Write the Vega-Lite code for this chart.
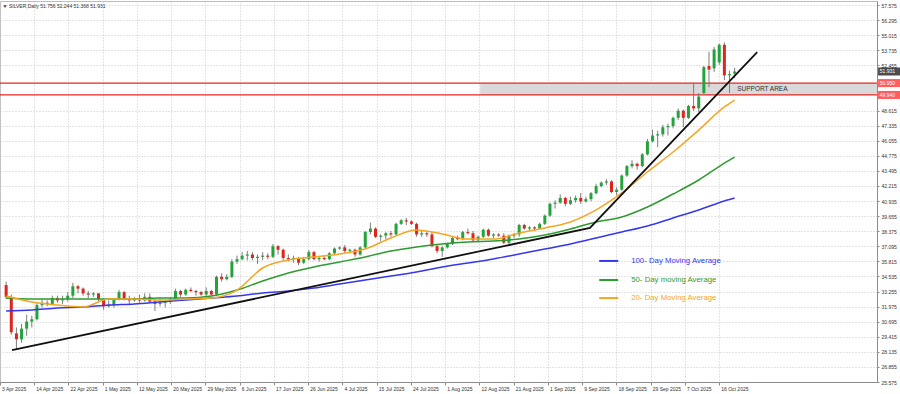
{
"$schema":"https://vega.github.io/schema/vega-lite/v6.json",
"width":877,"height":381,
"autosize":{"type":"none"},
"padding":{"left":0,"top":1,"right":23,"bottom":12},
"background":"white",
"config":{"view":{"stroke":"#bdbdbd"},"font":"Liberation Sans",
 "axis":{"labelFont":"Liberation Sans","labelFontSize":5,"labelColor":"#333","domainColor":"#8c8c8c","tickColor":"#8c8c8c","grid":true,"gridDash":[1,2],"gridColor":"#c8c8c8"}},
"datasets":{
"candles":[
{"i":0,"o":33.8,"h":34.1,"l":32.6,"c":32.8},
{"i":1,"o":32.8,"h":33.0,"l":29.6,"c":29.8},
{"i":2,"o":29.7,"h":30.2,"l":28.3,"c":29.2},
{"i":3,"o":29.2,"h":30.5,"l":28.9,"c":30.1},
{"i":4,"o":30.1,"h":31.3,"l":29.5,"c":30.7},
{"i":5,"o":30.7,"h":31.2,"l":30.2,"c":30.9},
{"i":6,"o":30.9,"h":32.3,"l":30.8,"c":32.1},
{"i":7,"o":32.1,"h":32.6,"l":31.9,"c":32.3},
{"i":8,"o":32.3,"h":32.5,"l":32.0,"c":32.2},
{"i":9,"o":32.2,"h":32.9,"l":32.1,"c":32.7},
{"i":10,"o":32.7,"h":32.9,"l":32.3,"c":32.5},
{"i":11,"o":32.5,"h":32.9,"l":32.2,"c":32.6},
{"i":12,"o":32.6,"h":33.2,"l":32.4,"c":32.9},
{"i":13,"o":32.9,"h":34.0,"l":32.7,"c":33.7},
{"i":14,"o":33.7,"h":33.8,"l":33.1,"c":33.5},
{"i":15,"o":33.5,"h":33.6,"l":32.9,"c":33.1},
{"i":16,"o":33.1,"h":33.3,"l":32.7,"c":33.0},
{"i":17,"o":33.0,"h":33.2,"l":32.8,"c":33.1},
{"i":18,"o":33.1,"h":33.1,"l":32.4,"c":32.6},
{"i":19,"o":32.6,"h":32.7,"l":31.7,"c":32.0},
{"i":20,"o":32.0,"h":32.5,"l":31.9,"c":32.1},
{"i":21,"o":32.1,"h":32.7,"l":31.9,"c":32.6},
{"i":22,"o":32.6,"h":33.4,"l":32.5,"c":33.2},
{"i":23,"o":33.2,"h":33.3,"l":32.5,"c":32.6},
{"i":24,"o":32.6,"h":32.9,"l":32.1,"c":32.5},
{"i":25,"o":32.5,"h":32.8,"l":32.4,"c":32.7},
{"i":26,"o":32.7,"h":33.0,"l":32.3,"c":32.5},
{"i":27,"o":32.5,"h":33.1,"l":32.4,"c":32.8},
{"i":28,"o":32.8,"h":33.1,"l":32.3,"c":32.4},
{"i":29,"o":32.4,"h":32.6,"l":31.6,"c":32.2},
{"i":30,"o":32.2,"h":32.7,"l":32.0,"c":32.3},
{"i":31,"o":32.3,"h":32.5,"l":31.9,"c":32.4},
{"i":32,"o":32.4,"h":32.8,"l":32.2,"c":32.6},
{"i":33,"o":32.6,"h":33.5,"l":32.5,"c":33.3},
{"i":34,"o":33.3,"h":33.4,"l":32.8,"c":33.0},
{"i":35,"o":33.0,"h":33.5,"l":32.9,"c":33.4},
{"i":36,"o":33.4,"h":33.6,"l":33.2,"c":33.3},
{"i":37,"o":33.3,"h":33.4,"l":32.9,"c":33.2},
{"i":38,"o":33.2,"h":33.3,"l":32.9,"c":33.0},
{"i":39,"o":33.0,"h":33.6,"l":32.9,"c":33.3},
{"i":40,"o":33.3,"h":33.4,"l":32.9,"c":33.0},
{"i":41,"o":33.0,"h":34.6,"l":32.9,"c":34.5},
{"i":42,"o":34.5,"h":34.8,"l":34.1,"c":34.3},
{"i":43,"o":34.3,"h":34.7,"l":34.2,"c":34.5},
{"i":44,"o":34.5,"h":36.0,"l":34.4,"c":35.8},
{"i":45,"o":35.8,"h":36.3,"l":35.6,"c":36.0},
{"i":46,"o":36.0,"h":36.6,"l":35.9,"c":36.3},
{"i":47,"o":36.3,"h":36.7,"l":35.9,"c":36.4},
{"i":48,"o":36.4,"h":36.6,"l":35.9,"c":36.1},
{"i":49,"o":36.1,"h":36.4,"l":35.6,"c":36.2},
{"i":50,"o":36.2,"h":36.6,"l":35.9,"c":36.3},
{"i":51,"o":36.3,"h":36.5,"l":36.0,"c":36.2},
{"i":52,"o":36.2,"h":37.3,"l":36.1,"c":37.1},
{"i":53,"o":37.1,"h":37.2,"l":36.4,"c":36.8},
{"i":54,"o":36.8,"h":36.9,"l":35.9,"c":36.1},
{"i":55,"o":36.1,"h":36.4,"l":35.8,"c":36.0},
{"i":56,"o":36.0,"h":36.3,"l":35.7,"c":36.1},
{"i":57,"o":36.1,"h":36.2,"l":35.5,"c":35.7},
{"i":58,"o":35.7,"h":36.2,"l":35.6,"c":36.0},
{"i":59,"o":36.0,"h":36.8,"l":35.9,"c":36.6},
{"i":60,"o":36.6,"h":36.7,"l":35.9,"c":36.0},
{"i":61,"o":36.0,"h":36.2,"l":35.8,"c":36.1},
{"i":62,"o":36.1,"h":36.3,"l":35.9,"c":36.0},
{"i":63,"o":36.0,"h":36.6,"l":35.9,"c":36.5},
{"i":64,"o":36.5,"h":37.0,"l":36.4,"c":36.9},
{"i":65,"o":36.9,"h":37.1,"l":36.8,"c":37.0},
{"i":66,"o":37.0,"h":37.2,"l":36.5,"c":36.7},
{"i":67,"o":36.7,"h":36.9,"l":36.5,"c":36.8},
{"i":68,"o":36.8,"h":36.9,"l":36.2,"c":36.4},
{"i":69,"o":36.4,"h":37.1,"l":36.3,"c":37.0},
{"i":70,"o":37.0,"h":38.4,"l":36.9,"c":38.3},
{"i":71,"o":38.3,"h":39.1,"l":38.1,"c":38.6},
{"i":72,"o":38.6,"h":38.7,"l":37.8,"c":37.9},
{"i":73,"o":37.9,"h":38.1,"l":37.5,"c":38.0},
{"i":74,"o":38.0,"h":38.3,"l":37.7,"c":38.2},
{"i":75,"o":38.2,"h":38.4,"l":37.9,"c":38.1},
{"i":76,"o":38.1,"h":39.1,"l":38.0,"c":39.0},
{"i":77,"o":39.0,"h":39.4,"l":38.9,"c":39.3},
{"i":78,"o":39.3,"h":39.5,"l":38.9,"c":39.2},
{"i":79,"o":39.2,"h":39.3,"l":38.9,"c":39.0},
{"i":80,"o":39.0,"h":39.1,"l":37.9,"c":38.1},
{"i":81,"o":38.1,"h":38.4,"l":37.9,"c":38.2},
{"i":82,"o":38.2,"h":38.4,"l":37.9,"c":38.1},
{"i":83,"o":38.1,"h":38.3,"l":37.0,"c":37.1},
{"i":84,"o":37.1,"h":37.2,"l":36.5,"c":36.7},
{"i":85,"o":36.7,"h":37.1,"l":36.2,"c":37.0},
{"i":86,"o":37.0,"h":37.4,"l":36.9,"c":37.3},
{"i":87,"o":37.3,"h":37.9,"l":37.2,"c":37.8},
{"i":88,"o":37.8,"h":38.0,"l":37.6,"c":37.7},
{"i":89,"o":37.7,"h":38.4,"l":37.6,"c":38.3},
{"i":90,"o":38.3,"h":38.6,"l":38.1,"c":38.2},
{"i":91,"o":38.2,"h":38.4,"l":37.5,"c":37.6},
{"i":92,"o":37.6,"h":38.0,"l":37.5,"c":37.9},
{"i":93,"o":37.9,"h":38.6,"l":37.8,"c":38.5},
{"i":94,"o":38.5,"h":38.6,"l":37.9,"c":38.0},
{"i":95,"o":38.0,"h":38.2,"l":37.8,"c":38.1},
{"i":96,"o":38.1,"h":38.2,"l":37.9,"c":38.0},
{"i":97,"o":38.0,"h":38.2,"l":37.3,"c":37.4},
{"i":98,"o":37.4,"h":38.1,"l":37.2,"c":38.0},
{"i":99,"o":38.0,"h":38.2,"l":37.8,"c":38.1},
{"i":100,"o":38.1,"h":39.0,"l":37.9,"c":38.9},
{"i":101,"o":38.9,"h":39.0,"l":38.5,"c":38.6},
{"i":102,"o":38.6,"h":38.8,"l":38.4,"c":38.7},
{"i":103,"o":38.7,"h":38.8,"l":38.4,"c":38.6},
{"i":104,"o":38.6,"h":39.1,"l":38.5,"c":39.0},
{"i":105,"o":39.0,"h":39.8,"l":38.9,"c":39.7},
{"i":106,"o":39.7,"h":40.8,"l":39.6,"c":40.7},
{"i":107,"o":40.7,"h":41.0,"l":40.3,"c":40.8},
{"i":108,"o":40.8,"h":41.5,"l":40.7,"c":41.2},
{"i":109,"o":41.2,"h":41.3,"l":40.5,"c":40.7},
{"i":110,"o":40.7,"h":41.3,"l":40.6,"c":41.0},
{"i":111,"o":41.0,"h":41.4,"l":40.8,"c":41.2},
{"i":112,"o":41.2,"h":41.6,"l":40.7,"c":40.9},
{"i":113,"o":40.9,"h":41.3,"l":40.8,"c":41.1},
{"i":114,"o":41.1,"h":41.7,"l":40.9,"c":41.6},
{"i":115,"o":41.6,"h":42.4,"l":41.5,"c":42.2},
{"i":116,"o":42.2,"h":42.6,"l":42.1,"c":42.5},
{"i":117,"o":42.5,"h":42.8,"l":42.3,"c":42.6},
{"i":118,"o":42.6,"h":42.7,"l":41.6,"c":41.7},
{"i":119,"o":41.7,"h":42.1,"l":41.4,"c":41.9},
{"i":120,"o":41.9,"h":43.2,"l":41.8,"c":43.1},
{"i":121,"o":43.1,"h":44.0,"l":43.0,"c":43.9},
{"i":122,"o":43.9,"h":44.4,"l":43.7,"c":44.1},
{"i":123,"o":44.1,"h":44.2,"l":43.6,"c":43.9},
{"i":124,"o":43.9,"h":45.0,"l":43.8,"c":44.9},
{"i":125,"o":44.9,"h":46.2,"l":44.8,"c":46.0},
{"i":126,"o":46.0,"h":47.0,"l":45.9,"c":46.5},
{"i":127,"o":46.5,"h":46.9,"l":45.5,"c":46.6},
{"i":128,"o":46.6,"h":47.4,"l":46.4,"c":47.2},
{"i":129,"o":47.2,"h":47.5,"l":46.5,"c":47.3},
{"i":130,"o":47.3,"h":48.1,"l":47.1,"c":48.0},
{"i":131,"o":48.0,"h":48.8,"l":47.8,"c":48.6},
{"i":132,"o":48.6,"h":48.7,"l":47.2,"c":48.0},
{"i":133,"o":48.0,"h":49.1,"l":47.9,"c":49.0},
{"i":134,"o":49.0,"h":51.0,"l":48.6,"c":48.8},
{"i":135,"o":48.8,"h":50.1,"l":48.5,"c":49.8},
{"i":136,"o":50.1,"h":52.4,"l":50.0,"c":52.3},
{"i":137,"o":52.4,"h":53.6,"l":50.6,"c":52.1},
{"i":138,"o":52.2,"h":54.0,"l":51.9,"c":53.8},
{"i":139,"o":52.7,"h":54.3,"l":52.5,"c":54.2},
{"i":140,"o":54.2,"h":54.4,"l":51.2,"c":51.6},
{"i":141,"o":51.6,"h":52.0,"l":50.1,"c":51.7},
{"i":142,"o":51.756,"h":52.244,"l":51.368,"c":51.931}
],
"ma":[
{"i":0,"ma20":32.87,"ma50":32.70,"ma100":31.60},
{"i":5,"ma20":32.37,"ma50":32.62,"ma100":31.69},
{"i":10,"ma20":32.11,"ma50":32.62,"ma100":31.86},
{"i":15,"ma20":31.94,"ma50":32.62,"ma100":31.94},
{"i":20,"ma20":32.62,"ma50":32.62,"ma100":32.11},
{"i":25,"ma20":32.62,"ma50":32.62,"ma100":32.20},
{"i":30,"ma20":32.53,"ma50":32.70,"ma100":32.37},
{"i":35,"ma20":32.62,"ma50":32.70,"ma100":32.53},
{"i":40,"ma20":32.70,"ma50":32.87,"ma100":32.70},
{"i":45,"ma20":33.38,"ma50":33.38,"ma100":32.87},
{"i":50,"ma20":35.25,"ma50":34.15,"ma100":33.13},
{"i":55,"ma20":35.93,"ma50":34.83,"ma100":33.30},
{"i":60,"ma20":36.19,"ma50":35.34,"ma100":33.55},
{"i":65,"ma20":36.44,"ma50":35.76,"ma100":33.89},
{"i":70,"ma20":36.86,"ma50":36.19,"ma100":34.23},
{"i":75,"ma20":37.80,"ma50":36.69,"ma100":34.57},
{"i":80,"ma20":38.48,"ma50":37.03,"ma100":34.91},
{"i":85,"ma20":38.14,"ma50":37.29,"ma100":35.34},
{"i":90,"ma20":37.71,"ma50":37.46,"ma100":35.68},
{"i":95,"ma20":37.71,"ma50":37.54,"ma100":36.02},
{"i":100,"ma20":38.22,"ma50":37.71,"ma100":36.44},
{"i":105,"ma20":38.65,"ma50":38.05,"ma100":36.86},
{"i":110,"ma20":39.16,"ma50":38.56,"ma100":37.29},
{"i":115,"ma20":40.18,"ma50":39.16,"ma100":37.80},
{"i":120,"ma20":41.62,"ma50":39.58,"ma100":38.31},
{"i":125,"ma20":43.40,"ma50":40.43,"ma100":38.82},
{"i":130,"ma20":45.10,"ma50":41.53,"ma100":39.50},
{"i":135,"ma20":46.96,"ma50":42.72,"ma100":40.18},
{"i":140,"ma20":48.92,"ma50":44.16,"ma100":40.94},
{"i":142,"ma20":49.51,"ma50":44.67,"ma100":41.19}
],
"legend":[
{"i":115.6,"i2":119.3,"v":35.85,"t":"100- Day Moving Average","k":"100"},
{"i":115.6,"i2":119.3,"v":34.23,"t":"50- Day moving Average","k":"50"},
{"i":115.6,"i2":119.3,"v":32.70,"t":"20- Day Moving Average","k":"20"}
],
"trend":[{"i":1.14,"v":28.29},{"i":113.8,"v":38.65},{"i":146.4,"v":53.58}],
"support":[{"i":92.4,"i2":169.75,"v":50.95,"v2":49.94}],
"levels":[{"i":-1.2,"i2":169.75,"v":50.95},{"i":-1.2,"i2":169.75,"v":49.94}],
"notes":[{"i":142.5,"v":50.45,"t":"SUPPORT AREA","k":"s"},{"i":-0.7,"v":57.5,"t":"▼ SILVER,Daily  51.756 52.244 51.368 51.931","k":"h"}],
"plabels":[{"i":172.2,"j":170.3,"v":51.931,"t":"51.931","f":"#000000"},{"i":172.2,"j":170.3,"v":50.95,"t":"50.950","f":"#ff1a1a"},{"i":172.2,"j":170.3,"v":49.94,"t":"49.940","f":"#ff1a1a"}]
},
"encoding":{
 "x":{"field":"i","type":"quantitative","title":null,
  "scale":{"domain":[-1.2,169.75],"nice":false,"zero":false,"padding":0},
  "axis":{"values":[-1.2,5.476,12.152,18.828,25.504,32.18,38.856,45.532,52.208,58.884,65.56,72.236,78.912,85.588,92.264,98.94,105.616,112.292,118.968,125.644,132.32,138.996],"tickCount":40,
   "labelExpr":"datum.value < 2 ? '3 Apr 2025' : datum.value < 9 ? '14 Apr 2025' : datum.value < 15 ? '22 Apr 2025' : datum.value < 22 ? '1 May 2025' : datum.value < 29 ? '12 May 2025' : datum.value < 35 ? '20 May 2025' : datum.value < 42 ? '29 May 2025' : datum.value < 49 ? '6 Jun 2025' : datum.value < 55 ? '17 Jun 2025' : datum.value < 62 ? '26 Jun 2025' : datum.value < 69 ? '4 Jul 2025' : datum.value < 75 ? '15 Jul 2025' : datum.value < 82 ? '24 Jul 2025' : datum.value < 89 ? '1 Aug 2025' : datum.value < 95 ? '12 Aug 2025' : datum.value < 102 ? '21 Aug 2025' : datum.value < 109 ? '1 Sep 2025' : datum.value < 115 ? '9 Sep 2025' : datum.value < 122 ? '18 Sep 2025' : datum.value < 129 ? '29 Sep 2025' : datum.value < 135 ? '7 Oct 2025' : '16 Oct 2025'",
   "labelAlign":"left","labelOffset":1.5,"labelPadding":1,"tickSize":3,"labelBound":false,"labelFlush":false,"labelOverlap":false}}
},
"layer":[
{"data":{"name":"support"},"mark":{"type":"rect","fill":"#d9d9d9"},
 "encoding":{"x2":{"field":"i2"},
  "y":{"field":"v","type":"quantitative","title":null,
   "scale":{"domain":[25.575,57.915],"nice":false,"zero":false,"padding":0},
   "axis":{"orient":"right","values":[57.575,56.295,55.015,53.735,52.455,48.615,47.335,46.055,44.775,43.495,42.215,40.935,39.655,38.375,37.095,35.815,34.535,33.255,31.975,30.695,29.415,28.135,26.855,25.575],"tickCount":60,"format":".3f","tickSize":2,"labelPadding":2,"labelOverlap":false,"labelBound":false,"labelFlush":false}},
  "y2":{"field":"v2"}}},
{"data":{"name":"levels"},"mark":{"type":"rule","color":"#e8261f","strokeWidth":1.2},
 "encoding":{"x2":{"field":"i2"},"y":{"field":"v","type":"quantitative","title":null}}},
{"data":{"name":"candles"},"mark":{"type":"rule","color":"#7d7d7d","strokeWidth":1},
 "encoding":{"y":{"field":"l","type":"quantitative","title":null},"y2":{"field":"h"}}},
{"data":{"name":"candles"},"mark":{"type":"bar","width":3},
 "encoding":{"y":{"field":"o","type":"quantitative","title":null},"y2":{"field":"c"},
  "color":{"condition":{"test":"datum.c >= datum.o","value":"#22a33c"},"value":"#e0231d"}}},
{"data":{"name":"ma"},"mark":{"type":"line","color":"#3636ee","strokeWidth":1.5,"interpolate":"monotone"},
 "encoding":{"y":{"field":"ma100","type":"quantitative","title":null}}},
{"data":{"name":"ma"},"mark":{"type":"line","color":"#2f9a2f","strokeWidth":1.5,"interpolate":"monotone"},
 "encoding":{"y":{"field":"ma50","type":"quantitative","title":null}}},
{"data":{"name":"ma"},"mark":{"type":"line","color":"#f5a623","strokeWidth":1.5,"interpolate":"monotone"},
 "encoding":{"y":{"field":"ma20","type":"quantitative","title":null}}},
{"data":{"name":"trend"},"mark":{"type":"line","color":"#111111","strokeWidth":1.8},
 "encoding":{"y":{"field":"v","type":"quantitative","title":null}}},
{"data":{"name":"legend"},"mark":{"type":"rule","strokeWidth":2},
 "encoding":{"x2":{"field":"i2"},"y":{"field":"v","type":"quantitative","title":null},
  "color":{"field":"k","type":"nominal","scale":{"domain":["100","50","20"],"range":["#3636ee","#2f9a2f","#f5a623"]},"legend":null}}},
{"data":{"name":"legend"},"mark":{"type":"text","align":"left","baseline":"middle","fontSize":7.8,"font":"Liberation Sans","dx":32},
 "encoding":{"y":{"field":"v","type":"quantitative","title":null},"text":{"field":"t"},
  "color":{"field":"k","type":"nominal","scale":{"domain":["100","50","20"],"range":["#3636ee","#2f9a2f","#f5a623"]},"legend":null}}},
{"data":{"name":"notes"},"mark":{"type":"text","align":"left","baseline":"middle","color":"#333333"},
 "encoding":{"y":{"field":"v","type":"quantitative","title":null},"text":{"field":"t"},"size":{"field":"k","type":"nominal","scale":{"domain":["s","h"],"range":[6.5,5]},"legend":null}}},
{"data":{"name":"plabels"},"mark":{"type":"tick","orient":"horizontal","size":23,"thickness":8},
 "encoding":{"y":{"field":"v","type":"quantitative","title":null},"color":{"field":"f","type":"nominal","scale":null}}},
{"data":{"name":"plabels"},"mark":{"type":"text","align":"left","baseline":"middle","fontSize":5,"color":"white"},
 "encoding":{"x":{"field":"j","type":"quantitative","title":null},"y":{"field":"v","type":"quantitative","title":null},"text":{"field":"t"}}}
]
}
